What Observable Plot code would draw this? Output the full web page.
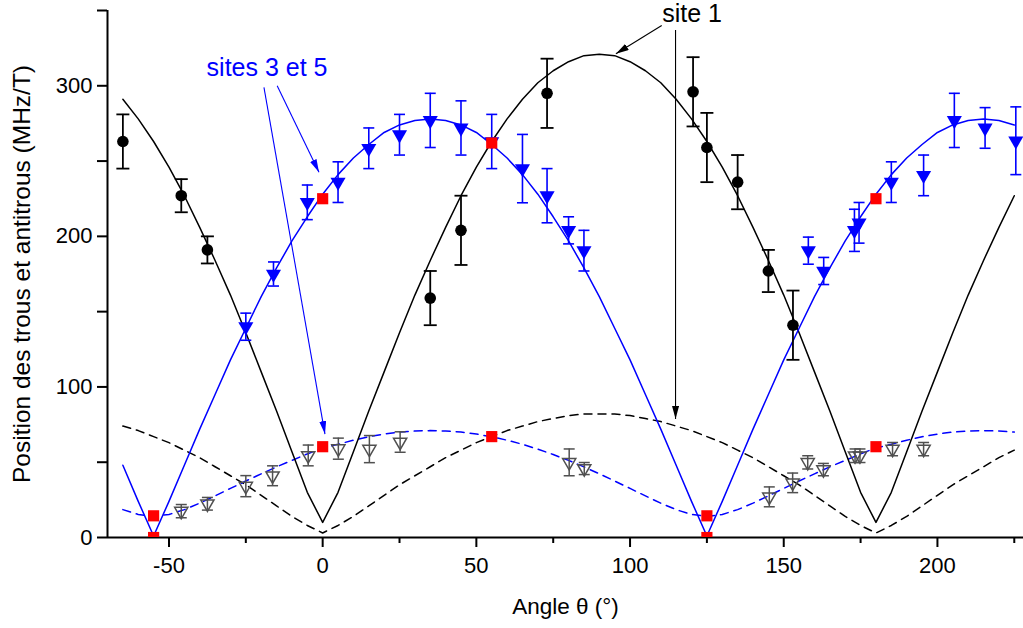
<!DOCTYPE html>
<html>
<head>
<meta charset="utf-8">
<script src="https://cdn.jsdelivr.net/npm/d3@7"></script>
<script src="https://cdn.jsdelivr.net/npm/@observablehq/plot@0.6"></script>
<style>
  html, body { margin: 0; padding: 0; background: #fff; }
  #chart { width: 1023px; height: 628px; }
</style>
</head>
<body>
<div id="chart"></div>
<script>
// ---------- Data ----------
// Fitted curves (sampled every 5°)
const fitAngle = [-65,-60,-55,-50,-45,-40,-35,-30,-25,-20,-15,-10,-5,0,5,10,15,20,25,30,35,40,45,50,55,60,65,70,75,80,85,90,95,100,105,110,115,120,125,130,135,140,145,150,155,160,165,170,175,180,185,190,195,200,205,210,215,220,225];
const site1Fit = [291,278,263,246,227,206,184,161,136,110,84,57,30,10,30,57,84,110,136,161,184,206,227,246,263,278,291,302,310,316,320,321,320,316,310,302,291,278,263,246,227,206,184,161,136,110,84,57,30,10,30,57,84,110,136,161,184,206,227];
const site1LowFit = [74,71,67,63,58,53,47,41,35,28,21,14,8,3,8,14,21,28,35,41,47,53,58,63,67,71,74,77,79,81,82,82,82,81,79,77,74,71,67,63,58,53,47,41,35,28,21,14,8,3,8,14,21,28,35,41,47,53,58];
const sites35Fit = [48,24,1,24,48,72,95,118,139,160,179,197,213,228,241,252,261,269,274,277,278,277,274,269,261,252,241,228,213,197,179,160,139,118,95,72,48,24,1,24,48,72,95,118,139,160,179,197,213,228,241,252,261,269,274,277,278,277,274];
const sites35LowFit = [18.5,15.3,14,15.3,18.5,22.8,27.6,32.6,37.5,42.3,46.9,51.2,55.5,59.5,61.9,64.6,66.9,68.7,70,70.7,71,70.7,70,68.7,66.9,64.6,61.9,58.7,55.1,51.2,46.9,42.3,37.5,32.6,27.6,22.8,18.5,15.3,14,15.3,18.5,22.8,27.6,32.6,37.5,42.3,46.9,51.2,55.5,59.5,61.9,64.6,66.9,68.7,70,70.7,71,70.7,70];

// Site 1 measurements (black circles)
const site1Angle = [-65,-46,-37.5,35,45,73,120.5,125,135,145,153];
const site1Value = [263,227,191,159,204,295,296,259,236,177,141];
const site1Err   = [18,11,9,18,23,23,23,23,18,14,23];

// Sites 3 et 5 measurements (blue filled triangles)
const sites35Angle = [-25,-16,-5,5,15,25,35,45,55,65,73,80,85,158,163,173,174.5,185,195.5,205.5,215.5,225.5];
const sites35Value = [140,175,222.6,236,258.5,267.5,277,272,263,245,227,204,190.5,190.5,177,204,209,236,240.5,277,272,263.5];
const sites35Err   = [9,8,11.5,13.5,13.5,13.5,18,18,18,22.7,18,9,13.5,9,9,14,13.5,13.5,13.5,18,13.5,22.5];

// Low branch measurements (grey open triangles)
const lowAngle = [-46,-37.5,-25,-16.3,-4.7,5.1,15.2,25.2,80.2,85.1,145.3,152.9,157.8,162.9,173.2,174.8,185.4,195.5];
const lowValue = [17.5,22.4,34.1,41,54.5,59,58.7,63.4,49.9,45.8,27,36.3,49.9,45.1,54.3,54.3,58.7,58.7];
const lowErr   = [4.4,4.2,7,6.6,6.9,7,9,6.8,8.9,4,6.6,6.5,4.4,4.1,4.5,4.5,4.4,4.4];

// Calculated positions (red squares)
const calcAngle = [-55,-55,0,0,55,55,125,125,180,180];
const calcValue = [0,14.4,225,60.3,262,67,0,14.4,225,60.3];

// Annotations
const labelText  = ["sites 3 et 5", "site 1"];
const labelAngle = [-18.1, 120.2];
const labelValue = [312, 348];
const labelColor = ["blue", "black"];
const arrowFromAngle = [-19.1, -14.8, 110.3, 114.8];
const arrowFromValue = [299, 300, 340, 337];
const arrowToAngle   = [0.75, -1.2, 95.4, 114.8];
const arrowToValue   = [68.7, 242.6, 321.3, 78.7];
const arrowColor     = ["blue", "blue", "black", "black"];

const xMajor = [-50, 0, 50, 100, 150, 200];
const xMinor = [-25, 25, 75, 125, 175, 225];
const yMajor = [0, 100, 200, 300];
const yMinor = [50, 150, 250, 350];

// ---------- Tables ----------
const fits = fitAngle.map((a, i) => ({a, s1: site1Fit[i], s1l: site1LowFit[i], s35: sites35Fit[i], s35l: sites35LowFit[i]}));
const pts = (A, V, E) => A.map((a, i) => ({a, v: V[i], e: E[i]}));
const site1 = pts(site1Angle, site1Value, site1Err);
const sites35 = pts(sites35Angle, sites35Value, sites35Err);
const low = pts(lowAngle, lowValue, lowErr);
const calc = calcAngle.map((a, i) => ({a, v: calcValue[i]}));
const labels = labelText.map((t, i) => ({t, a: labelAngle[i], v: labelValue[i], c: labelColor[i]}));
const arrows = arrowFromAngle.map((a, i) => ({a1: a, v1: arrowFromValue[i], a2: arrowToAngle[i], v2: arrowToValue[i], c: arrowColor[i]}));

// cap symbol for error bars: a horizontal segment
const cap = {draw(ctx, size) { const w = Math.sqrt(size); ctx.moveTo(-w / 2, 0); ctx.lineTo(w / 2, 0); }};
const capR = (w) => w / Math.sqrt(Math.PI);

function errorBars(data, color, width, capW) {
  return [
    Plot.ruleX(data, {x: "a", y1: d => d.v - d.e, y2: d => d.v + d.e, stroke: color, strokeWidth: width}),
    Plot.dot(data, {x: "a", y: d => d.v + d.e, symbol: cap, r: capR(capW), fill: "none", stroke: color, strokeWidth: width}),
    Plot.dot(data, {x: "a", y: d => d.v - d.e, symbol: cap, r: capR(capW), fill: "none", stroke: color, strokeWidth: width})
  ];
}

const FONT = "Liberation Sans, Arial, Helvetica, sans-serif";

const chart = Plot.plot({
  width: 1023,
  height: 628,
  marginLeft: 107,
  marginRight: 0,
  marginTop: 10,
  marginBottom: 91,
  style: {fontFamily: FONT, fontSize: "22px", background: "white", color: "black", overflow: "visible"},
  x: {domain: [-70, 228]},
  y: {domain: [0, 350]},
  color: {type: "identity"},
  marks: [
    // axes
    Plot.axisX({ticks: xMajor, tickSize: 10, tickPadding: 10, fontSize: 22, label: null, strokeWidth: 2, tickFormat: d => String(d)}),
    Plot.axisX({ticks: xMinor, tickSize: 6, text: null, label: null, strokeWidth: 2}),
    Plot.axisY({ticks: yMajor, tickSize: 10, tickPadding: 5, fontSize: 22, label: null, strokeWidth: 2, tickFormat: d => String(d)}),
    Plot.axisY({ticks: yMinor, tickSize: 10, text: null, label: null, strokeWidth: 2}),
    Plot.ruleY([0], {stroke: "black", strokeWidth: 2}),
    Plot.ruleX([-70], {stroke: "black", strokeWidth: 2}),
    Plot.text(["Angle θ (°)"], {frameAnchor: "bottom", dy: 69, fontSize: 22.5, fill: "black", textAnchor: "middle", lineAnchor: "middle"}),
    Plot.text(["Position des trous et antitrous (MHz/T)"], {frameAnchor: "left", dx: -85, rotate: -90, fontSize: 24.5, fill: "black", textAnchor: "middle", lineAnchor: "middle"}),

    // fitted curves
    Plot.line(fits, {x: "a", y: "s1l", stroke: "black", strokeWidth: 1.5, strokeDasharray: "8,6"}),
    Plot.line(fits, {x: "a", y: "s35l", stroke: "blue", strokeWidth: 1.5, strokeDasharray: "8,6"}),
    Plot.line(fits, {x: "a", y: "s1", stroke: "black", strokeWidth: 1.5}),
    Plot.line(fits, {x: "a", y: "s35", stroke: "blue", strokeWidth: 1.5}),

    // error bars
    ...errorBars(low, "#505050", 1.5, 11),
    ...errorBars(site1, "black", 1.8, 13),
    ...errorBars(sites35, "blue", 1.6, 11),

    // markers
    Plot.dot(low, {x: "a", y: "v", symbol: "triangle", rotate: 180, r: 4.9, fill: "none", stroke: "#505050", strokeWidth: 1.5}),
    Plot.dot(sites35, {x: "a", y: "v", symbol: "triangle", rotate: 180, r: 5.6, fill: "blue", stroke: "none"}),
    Plot.dot(site1, {x: "a", y: "v", symbol: "circle", r: 5.8, fill: "black", stroke: "none"}),
    Plot.dot(calc, {x: "a", y: "v", symbol: "square", r: 6.3, fill: "red", stroke: "none", clip: true}),

    // annotations
    Plot.link(arrows, {x1: "a1", y1: "v1", x2: "a2", y2: "v2", stroke: "c", strokeWidth: 1.1}),
    Plot.text(labels, {x: "a", y: "v", text: "t", fill: "c", fontSize: 25, textAnchor: "middle", lineAnchor: "middle"})
  ]
});

// filled arrow heads on the annotation links
(function addHeads(svg) {
  const ns = "http://www.w3.org/2000/svg";
  const defs = document.createElementNS(ns, "defs");
  const ids = {};
  ["blue", "black"].forEach((col, k) => {
    const id = "head-" + k;
    ids[col] = id;
    const m = document.createElementNS(ns, "marker");
    m.setAttribute("id", id);
    m.setAttribute("viewBox", "0 0 13 7");
    m.setAttribute("refX", "13");
    m.setAttribute("refY", "3.5");
    m.setAttribute("markerWidth", "13");
    m.setAttribute("markerHeight", "7");
    m.setAttribute("markerUnits", "userSpaceOnUse");
    m.setAttribute("orient", "auto");
    const p = document.createElementNS(ns, "path");
    p.setAttribute("d", "M0,0L13,3.5L0,7Z");
    p.setAttribute("fill", col);
    m.appendChild(p);
    defs.appendChild(m);
  });
  svg.insertBefore(defs, svg.firstChild);
  svg.querySelectorAll('g[aria-label="link"] path').forEach(p => {
    const col = p.getAttribute("stroke") || p.parentNode.getAttribute("stroke");
    const id = ids[col] || ids.black;
    p.setAttribute("marker-end", `url(#${id})`);
  });
})(chart);

document.getElementById("chart").appendChild(chart);
</script>
</body>
</html>
